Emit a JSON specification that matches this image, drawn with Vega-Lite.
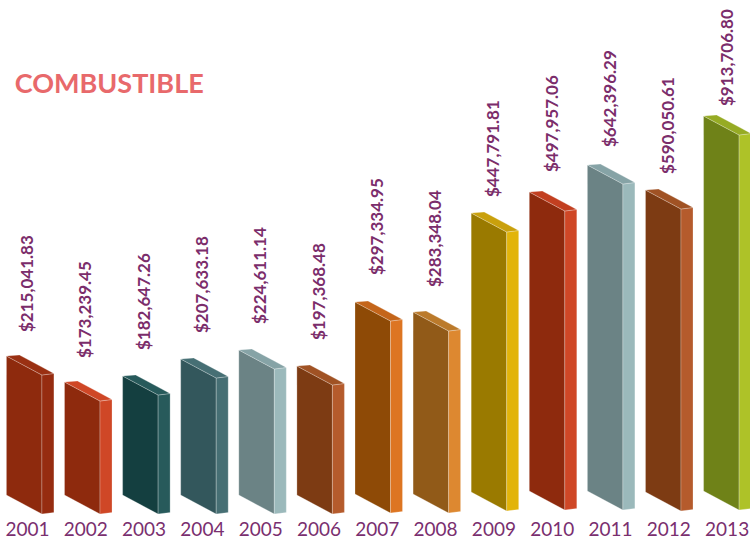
{
"$schema":"https://vega.github.io/schema/vega-lite/v6.json",
"width":750,"height":539,"padding":0,"autosize":{"type":"none"},
"background":"white",
"config":{"view":{"stroke":null}},
"data":{"values":[
{"year":2001,"amount":215041.83,"bar":139,"floor":44,"tag":207},
{"year":2002,"amount":173239.45,"bar":113,"floor":44,"tag":181},
{"year":2003,"amount":182647.26,"bar":119,"floor":44,"tag":189},
{"year":2004,"amount":207633.18,"bar":136,"floor":44,"tag":206},
{"year":2005,"amount":224611.14,"bar":145,"floor":44,"tag":215},
{"year":2006,"amount":197368.48,"bar":129,"floor":44,"tag":199},
{"year":2007,"amount":297334.95,"bar":192,"floor":45,"tag":264},
{"year":2008,"amount":283348.04,"bar":182,"floor":45,"tag":252},
{"year":2009,"amount":447791.81,"bar":279,"floor":47,"tag":342},
{"year":2010,"amount":497957.06,"bar":299,"floor":48,"tag":367},
{"year":2011,"amount":642396.29,"bar":326,"floor":48,"tag":392},
{"year":2012,"amount":590050.61,"bar":302,"floor":47,"tag":365},
{"year":2013,"amount":913706.80,"bar":375,"floor":48,"tag":433}
]},
"resolve":{"scale":{"color":"independent"}},
"layer":[
{"transform":[
 {"calculate":"[0,35.5]","as":"t"},{"flatten":["t"]},
 {"calculate":"datum.year-0.353-0.0035*(datum.year-2001)+datum.t/58.3","as":"px"},
 {"calculate":"datum.floor+datum.bar-datum.t*19/35.5","as":"hi"},
 {"calculate":"datum.floor-datum.t*19/35.5","as":"lo"}],
 "mark":{"type":"area","stroke":"#ffffff","strokeOpacity":0.35,"strokeWidth":0.7,"interpolate":"linear"},
 "encoding":{
  "x":{"field":"px","type":"quantitative","scale":{"domain":[2000.537,2013.401],"nice":false,"zero":false},
   "axis":{"values":[2001,2002,2003,2004,2005,2006,2007,2008,2009,2010,2011,2012,2013],"format":"d","title":null,"domain":false,"ticks":false,"grid":false,"offset":-22,"labelPadding":3,"labelFont":"Lato","labelFontSize":19,"labelColor":"#7a2f6f","labelFlush":false,"labelOverlap":false}},
  "y":{"field":"hi","type":"quantitative","scale":{"domain":[0,539],"nice":false,"zero":false},"axis":null},
  "y2":{"field":"lo"},
  "detail":{"field":"year"},
  "color":{"field":"year","type":"nominal","legend":null,"scale":{"domain":[2001,2002,2003,2004,2005,2006,2007,2008,2009,2010,2011,2012,2013],"range":["#8e2a0d","#8e2a0d","#143f40","#33575c","#6b8385","#7d3b13","#8e4a06","#915a18","#9a7a00","#8e2a0d","#6b8385","#7d3b13","#6f8218"]}}
 }},
{"transform":[
 {"calculate":"[35.5,47.5]","as":"t"},{"flatten":["t"]},
 {"calculate":"datum.year-0.353-0.0035*(datum.year-2001)+datum.t/58.3","as":"px"},
 {"calculate":"datum.floor+datum.bar-19+(datum.t-35.5)/8","as":"hi"},
 {"calculate":"datum.floor-19+(datum.t-35.5)/8","as":"lo"}],
 "mark":{"type":"area","stroke":"#ffffff","strokeOpacity":0.35,"strokeWidth":0.7,"interpolate":"linear"},
 "encoding":{
  "x":{"field":"px","type":"quantitative"},
  "y":{"field":"hi","type":"quantitative"},
  "y2":{"field":"lo"},
  "detail":{"field":"year"},
  "color":{"field":"year","type":"nominal","legend":null,"scale":{"domain":[2001,2002,2003,2004,2005,2006,2007,2008,2009,2010,2011,2012,2013],"range":["#962c10","#cf4726","#275a5b","#466f74","#9bb9bb","#b55b2c","#dd7522","#dd8830","#e2b40a","#cf4726","#9bb9bb","#b55b2c","#aec228"]}}
 }},
{"transform":[
 {"calculate":"[0,13,35.5,47.5]","as":"t"},{"flatten":["t"]},
 {"calculate":"datum.year-0.353-0.0035*(datum.year-2001)+datum.t/58.3","as":"px"},
 {"calculate":"datum.floor+datum.bar+(datum.t<=13?datum.t/13:1-(datum.t-13)/34.5*18.5)","as":"hi"},
 {"calculate":"datum.floor+datum.bar+(datum.t<=35.5?-datum.t*19/35.5:-19+(datum.t-35.5)/8)","as":"lo"}],
 "mark":{"type":"area","stroke":"#ffffff","strokeOpacity":0.35,"strokeWidth":0.7,"interpolate":"linear"},
 "encoding":{
  "x":{"field":"px","type":"quantitative"},
  "y":{"field":"hi","type":"quantitative"},
  "y2":{"field":"lo"},
  "detail":{"field":"year"},
  "color":{"field":"year","type":"nominal","legend":null,"scale":{"domain":[2001,2002,2003,2004,2005,2006,2007,2008,2009,2010,2011,2012,2013],"range":["#9a3012","#cf4726","#275a5b","#466f74","#86a3a6","#a05224","#c4651a","#bb7a2b","#c9a00c","#c23f20","#86a3a6","#a05224","#96ab24"]}}
 }},
{"mark":{"type":"text","angle":270,"align":"left","baseline":"middle","dy":1,"font":"Lato","fontWeight":"bold","fontSize":17,"color":"#7b2d6b"},
 "encoding":{
  "x":{"field":"year","type":"quantitative"},
  "y":{"field":"tag","type":"quantitative"},
  "text":{"field":"amount","type":"quantitative","format":"$,.2f"}
 }},
{"data":{"values":[{"name":"COMBUSTIBLE","at":2000.79,"h":446}]},
 "mark":{"type":"text","align":"left","baseline":"alphabetic","font":"Lato","fontWeight":"bold","fontSize":27,"color":"#e8696b"},
 "encoding":{
  "x":{"field":"at","type":"quantitative"},
  "y":{"field":"h","type":"quantitative"},
  "text":{"field":"name"}
 }}
]
}
